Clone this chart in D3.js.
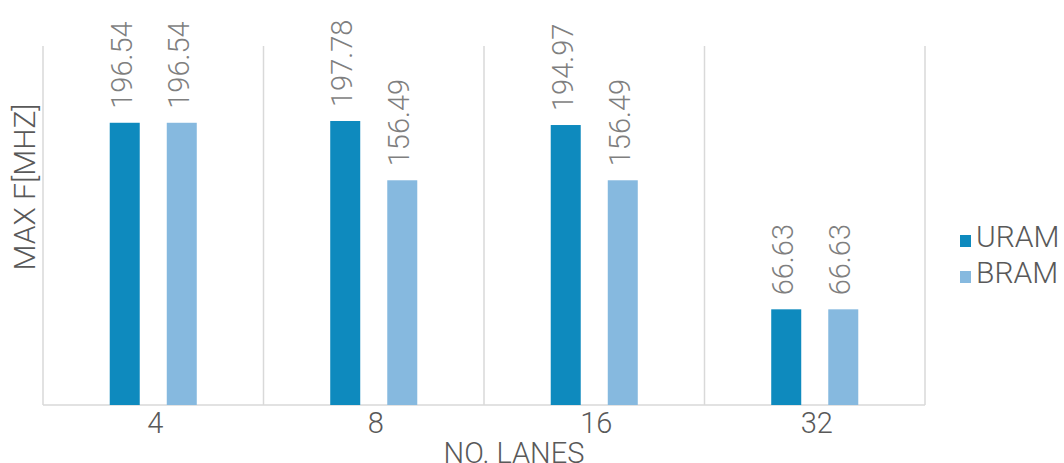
<!DOCTYPE html>
<html>
<head>
<meta charset="utf-8">
<script src="https://cdn.jsdelivr.net/npm/d3@7"></script>
<style>
  html, body { margin: 0; padding: 0; background: #fff; }
  svg { display: block; font-family: Roboto, "Open Sans", sans-serif; }
</style>
</head>
<body>
<svg id="chart" width="1064" height="463"></svg>
<script>
const categories = ["4", "8", "16", "32"];
const seriesNames = ["URAM", "BRAM"];
const uramValues = [196.54, 197.78, 194.97, 66.63];
const bramValues = [196.54, 156.49, 156.49, 66.63];
const colors = ["#0e8abe", "#86b9df"];

(function () {
const svg = d3.select("#chart");
const mLeft = 43, mRight = 925, mTop = 46, mBottom = 405;

const x = d3.scaleBand().domain(categories).range([mLeft, mRight]).padding(0);
const x1 = d3.scaleBand().domain(seriesNames).range([0, x.bandwidth()]).paddingInner(0.474).paddingOuter(1.17);
const y = d3.scaleLinear().domain([0, 250]).range([mBottom, mTop]);

const data = categories.map((c, i) => ({ cat: c, vals: [uramValues[i], bramValues[i]] }));

// vertical gridlines at category boundaries
const bounds = categories.map(c => x(c)).concat([x(categories[categories.length - 1]) + x.bandwidth()]);
svg.append("g").selectAll("line").data(bounds).join("line")
  .attr("x1", d => d).attr("x2", d => d)
  .attr("y1", mTop).attr("y2", mBottom)
  .attr("stroke", "#d9d9d9").attr("stroke-width", 1.5);

// baseline
svg.append("line").attr("x1", mLeft).attr("x2", mRight).attr("y1", mBottom).attr("y2", mBottom)
  .attr("stroke", "#d9d9d9").attr("stroke-width", 1.5);

// bars
const groups = svg.append("g").selectAll("g").data(data).join("g")
  .attr("transform", d => `translate(${x(d.cat)},0)`);

groups.selectAll("rect").data(d => d.vals.map((v, j) => ({ s: seriesNames[j], v, j })))
  .join("rect")
  .attr("x", d => x1(d.s))
  .attr("width", x1.bandwidth())
  .attr("y", d => y(d.v))
  .attr("height", d => mBottom - y(d.v))
  .attr("fill", d => colors[d.j]);

// value labels (rotated)
groups.selectAll("text").data(d => d.vals.map((v, j) => ({ s: seriesNames[j], v, j })))
  .join("text")
  .attr("transform", d => `translate(${x1(d.s) + x1.bandwidth() / 2 + 7},${y(d.v) - 14}) rotate(-90)`)
  .attr("fill", "#7f7f7f")
  .attr("font-size", 29)
  .attr("font-weight", 300)
  .text(d => d.v.toFixed(2));

// x tick labels
svg.append("g").selectAll("text").data(categories).join("text")
  .attr("x", d => x(d) + x.bandwidth() / 2 + 2)
  .attr("y", 433)
  .attr("text-anchor", "middle")
  .attr("fill", "#595959")
  .attr("font-size", 29)
  .attr("font-weight", 300)
  .text(d => d);

// axis titles
svg.append("text")
  .attr("x", 514).attr("y", 463)
  .attr("text-anchor", "middle")
  .attr("fill", "#595959")
  .attr("font-size", 29)
  .attr("font-weight", 300)
  .text("NO. LANES");

svg.append("text")
  .attr("transform", "translate(35,187) rotate(-90)")
  .attr("text-anchor", "middle")
  .attr("fill", "#595959")
  .attr("font-size", 30)
  .attr("font-weight", 300)
  .text("MAX F[MHZ]");

// legend
const legend = svg.append("g").selectAll("g").data(seriesNames).join("g")
  .attr("transform", (d, i) => `translate(960,${235 + i * 36})`);
legend.append("rect").attr("width", 11).attr("height", 12).attr("fill", (d, i) => colors[i]);
legend.append("text").attr("x", 16).attr("y", 12)
  .attr("fill", "#595959").attr("font-size", 30).attr("font-weight", 300)
  .text(d => d);
})();
</script>
</body>
</html>
